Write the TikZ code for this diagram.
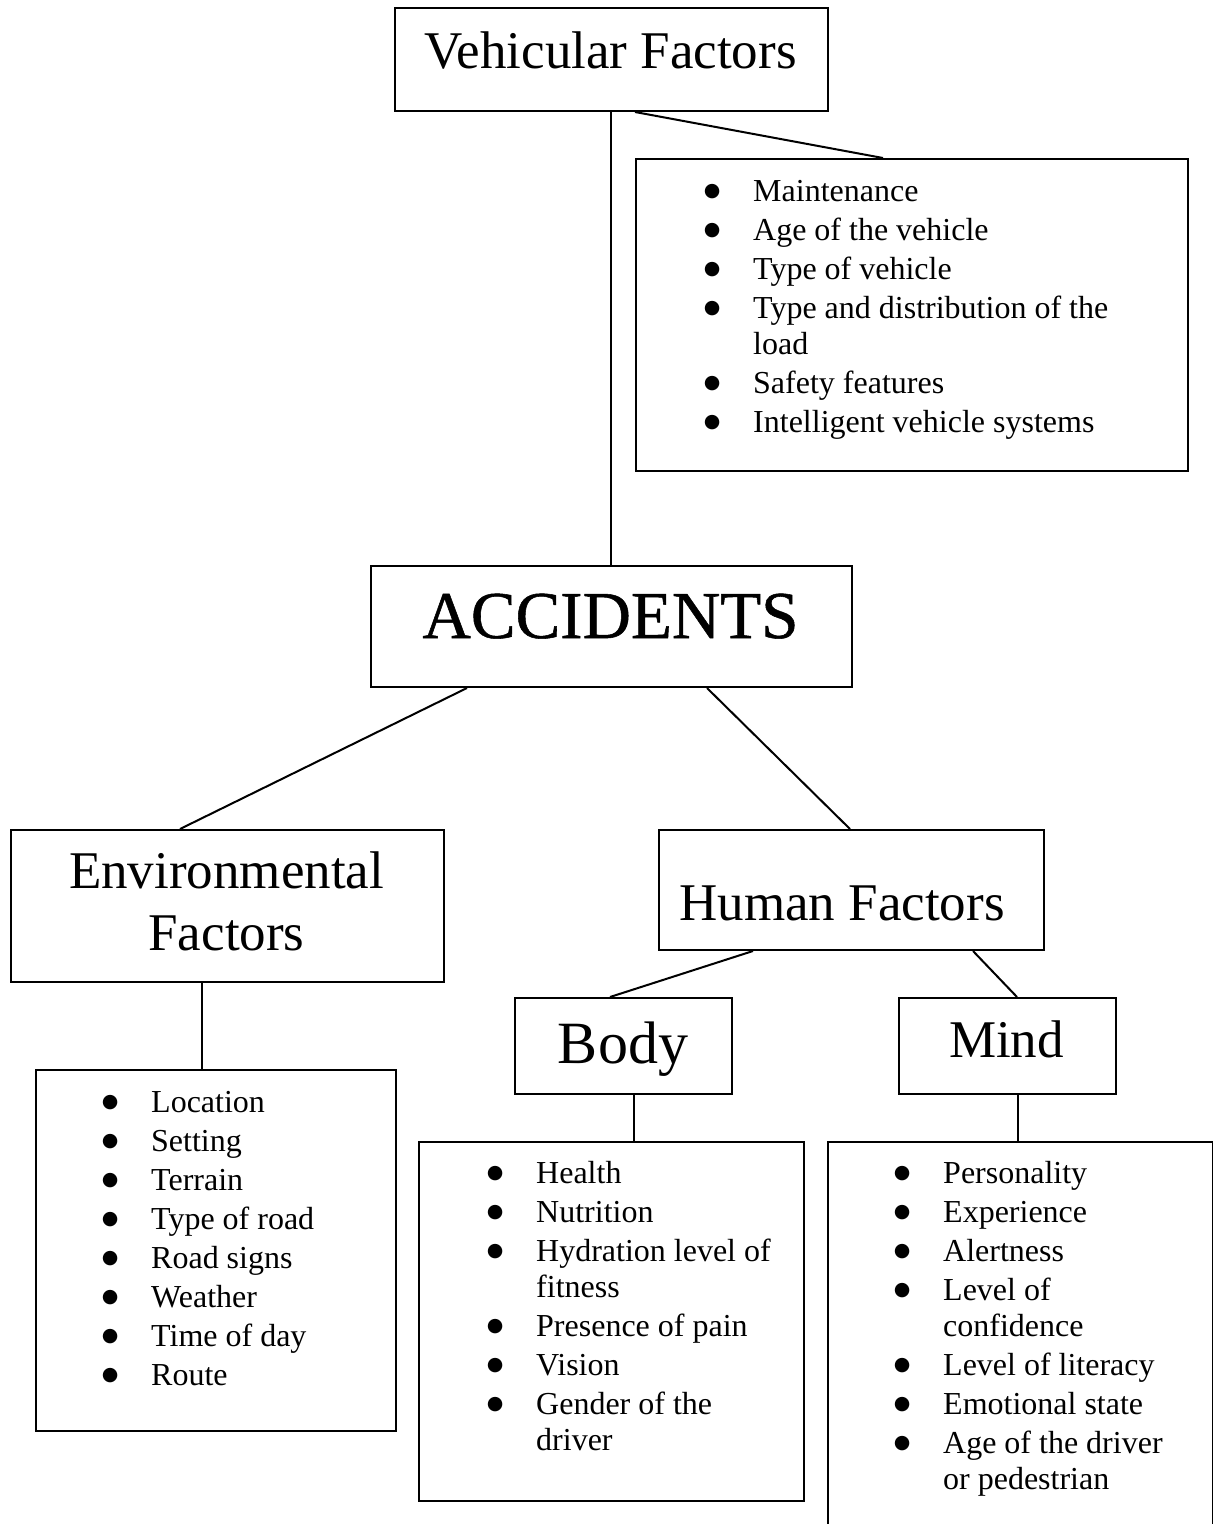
\documentclass[tikz,border=0pt]{standalone}
\usepackage{fontspec}
\setmainfont{Liberation Serif}
\newfontfamily\accfont[FakeBold=0.8]{Liberation Serif}
\newfontfamily\dejavu{DejaVu Sans}
\newcommand\bul{\makebox[0pt]{\raisebox{4.5pt}{\dejavu\fontsize{19}{19}\selectfont ●}}\hspace{41pt}}
\newcommand\cont{\hspace*{41pt}}
\tikzset{
  box/.style={draw, line width=2pt, rectangle, inner sep=0pt, anchor=north west},
  conn/.style={line width=2pt},
  ttl/.style={inner sep=0pt, anchor=base},
  lst/.style={inner sep=0pt, anchor=base west, font=\fontsize{32}{36}\selectfont},
}
\begin{document}
\begin{tikzpicture}[x=1pt,y=-1pt]
\useasboundingbox (0,0) rectangle (1213,1524);
\fill[white] (0,0) rectangle (1213,1524);
% boxes
\node[box, minimum width=433pt, minimum height=103pt] (vf) at (394,7) {};
\node[box, minimum width=552pt, minimum height=312pt] (vlist) at (635,158) {};
\node[box, minimum width=481pt, minimum height=121pt] (acc) at (370,565) {};
\node[box, minimum width=433pt, minimum height=152pt] (env) at (10,829) {};
\node[box, minimum width=385pt, minimum height=120pt] (hum) at (658,829) {};
\node[box, minimum width=217pt, minimum height=96pt] (body) at (514,997) {};
\node[box, minimum width=217pt, minimum height=96pt] (mind) at (898,997) {};
\node[box, minimum width=360pt, minimum height=361pt] (envlist) at (35,1069) {};
\node[box, minimum width=385pt, minimum height=359pt] (blist) at (418,1141) {};
\node[box, minimum width=385pt, minimum height=420pt] (mlist) at (827,1141) {};
% titles
\node[ttl, font=\fontsize{53}{62}\selectfont] (vft) at (610.5,68) {Vehicular Factors};
\node[ttl, font=\accfont\fontsize{67}{78}\selectfont] (acct) at (610.5,638) {ACCIDENTS};
\node[ttl, font=\fontsize{53}{62}\selectfont] (envt) at (226.5,888) {\begin{tabular}[t]{@{}c@{}}Environmental\\Factors\end{tabular}};
\node[ttl, font=\fontsize{53}{62}\selectfont] (humt) at (842,920) {Human Factors};
\node[ttl, font=\fontsize{60}{70}\selectfont] (bodyt) at (623,1063) {Body};
\node[ttl, font=\fontsize{53}{62}\selectfont] (mindt) at (1006.5,1057) {Mind};
% lists
\node[lst] (vlistt) at (712,201) {\begin{tabular}[t]{@{}l@{}}
\bul Maintenance\\[3pt]
\bul Age of the vehicle\\[3pt]
\bul Type of vehicle\\[3pt]
\bul Type and distribution of the\\
\cont load\\[3pt]
\bul Safety features\\[3pt]
\bul Intelligent vehicle systems
\end{tabular}};
\node[lst] (envlistt) at (110,1112) {\begin{tabular}[t]{@{}l@{}}
\bul Location\\[3pt]
\bul Setting\\[3pt]
\bul Terrain\\[3pt]
\bul Type of road\\[3pt]
\bul Road signs\\[3pt]
\bul Weather\\[3pt]
\bul Time of day\\[3pt]
\bul Route
\end{tabular}};
\node[lst] (blistt) at (495,1183) {\begin{tabular}[t]{@{}l@{}}
\bul Health\\[3pt]
\bul Nutrition\\[3pt]
\bul Hydration level of\\
\cont fitness\\[3pt]
\bul Presence of pain\\[3pt]
\bul Vision\\[3pt]
\bul Gender of the\\
\cont driver
\end{tabular}};
\node[lst] (mlistt) at (902,1183) {\begin{tabular}[t]{@{}l@{}}
\bul Personality\\[3pt]
\bul Experience\\[3pt]
\bul Alertness\\[3pt]
\bul Level of\\
\cont confidence\\[3pt]
\bul Level of literacy\\[3pt]
\bul Emotional state\\[3pt]
\bul Age of the driver\\
\cont or pedestrian
\end{tabular}};
% connectors
\draw[conn] ([xshift=216.5pt]vf.south west) -- ([xshift=240.5pt]acc.north west);
\draw[conn] ([xshift=241pt]vf.south west) -- ([xshift=248pt]vlist.north west);
\draw[conn] ([xshift=97pt]acc.south west) -- ([xshift=170pt]env.north west);
\draw[conn] ([xshift=337pt]acc.south west) -- ([xshift=192pt]hum.north west);
\draw[conn] ([xshift=95pt]hum.south west) -- ([xshift=96pt]body.north west);
\draw[conn] ([xshift=315pt]hum.south west) -- ([xshift=119pt]mind.north west);
\draw[conn] ([xshift=192pt]env.south west) -- ([xshift=167pt]envlist.north west);
\draw[conn] ([xshift=120pt]body.south west) -- ([xshift=216pt]blist.north west);
\draw[conn] ([xshift=120pt]mind.south west) -- ([xshift=191pt]mlist.north west);
\end{tikzpicture}
\end{document}
